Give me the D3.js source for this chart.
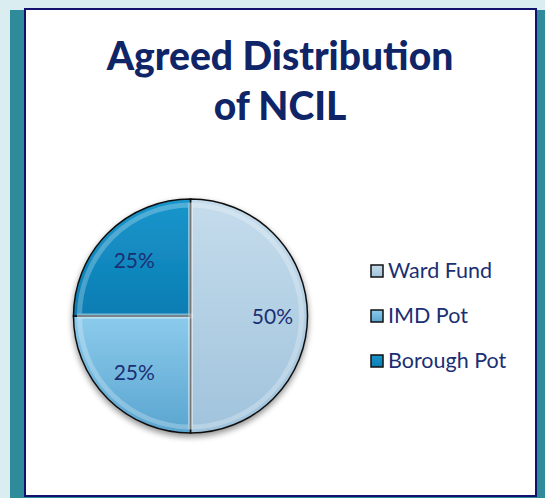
<!DOCTYPE html>
<html lang="en">
<head>
    <meta charset="UTF-8">
    <title>Agreed Distribution of NCIL</title>
    <script src="https://cdn.jsdelivr.net/npm/d3@7/dist/d3.min.js"></script>
    <style>
        body { margin: 0; background: #daeef2; }
        svg text { font-family: Lato, "Open Sans", sans-serif; }
    </style>
</head>
<body>
    <script>
        //chart data
        var categories = ['Ward Fund', 'IMD Pot', 'Borough Pot'];
        var shares = [50, 25, 25];
        var titleLines = ['Agreed Distribution', 'of NCIL'];

        //slice colours: [top, bottom] of each gradient
        var colours = [['#c5dcec', '#a0c3dc'], ['#8ccbec', '#5aa5d0'], ['#1a96cc', '#0a7db3']];

        var w = 545;
        var h = 498;

        var svg = d3.select('body')
                    .append('svg')
                    .attr('width', w)
                    .attr('height', h);

        var defs = svg.append('defs');

        //gradient per slice
        colours.forEach(function(c, i) {
            var g = defs.append('linearGradient')
                .attr('id', 'grad' + i)
                .attr('x1', 0).attr('y1', 0)
                .attr('x2', 0).attr('y2', 1);
            g.append('stop').attr('offset', '0%').attr('stop-color', c[0]);
            g.append('stop').attr('offset', '100%').attr('stop-color', c[1]);
        });

        //soft shadow under the pie
        var shadow = defs.append('filter')
            .attr('id', 'shadow')
            .attr('x', '-20%').attr('y', '-20%')
            .attr('width', '140%').attr('height', '140%');
        shadow.append('feGaussianBlur').attr('in', 'SourceAlpha').attr('stdDeviation', 3);
        shadow.append('feOffset').attr('dx', 0).attr('dy', 3).attr('result', 'blur');
        shadow.append('feComponentTransfer')
            .append('feFuncA').attr('type', 'linear').attr('slope', 0.45);
        var merge = shadow.append('feMerge');
        merge.append('feMergeNode');
        merge.append('feMergeNode').attr('in', 'SourceGraphic');

        //teal strip behind the panel
        svg.append('rect')
            .attr('x', 10).attr('y', 10)
            .attr('width', 535).attr('height', 488)
            .attr('fill', '#2f8a9a');

        //white panel
        svg.append('rect')
            .attr('x', 25).attr('y', 9)
            .attr('width', 511).attr('height', 487)
            .attr('fill', '#ffffff')
            .attr('stroke', '#12126e')
            .attr('stroke-width', 2);

        //title
        svg.append('g')
            .selectAll('text')
            .data(titleLines)
            .enter()
            .append('text')
            .attr('x', 280)
            .attr('y', function(d, i) { return 70 + i * 50; })
            .attr('text-anchor', 'middle')
            .attr('font-size', '39px')
            .attr('font-weight', 900)
            .attr('fill', '#0f2567')
            .text(function(d) { return d; });

        //pie
        var cx = 190.5, cy = 316, r = 117;

        var pie = d3.pie().sort(null).value(function(d) { return d; });
        var arc = d3.arc().innerRadius(0).outerRadius(r);
        var labelArc = d3.arc().innerRadius(r * 0.68).outerRadius(r * 0.68);
        var arcs = pie(shares);

        var pieG = svg.append('g')
            .attr('transform', 'translate(' + cx + ',' + cy + ')');

        pieG.append('g')
            .attr('filter', 'url(#shadow)')
            .selectAll('path')
            .data(arcs)
            .enter()
            .append('path')
            .attr('d', arc)
            .attr('fill', function(d, i) { return 'url(#grad' + i + ')'; })
            .attr('stroke', '#111')
            .attr('stroke-width', 1.5);

        //bevel highlight on each slice
        var innerArc = d3.arc().innerRadius(0).outerRadius(r - 6);
        pieG.append('g')
            .selectAll('path')
            .data(arcs)
            .enter()
            .append('path')
            .attr('d', innerArc)
            .attr('fill', 'none')
            .attr('stroke', '#ffffff')
            .attr('stroke-opacity', 0.25)
            .attr('stroke-width', 5);

        pieG.append('g')
            .selectAll('text')
            .data(arcs)
            .enter()
            .append('text')
            .attr('transform', function(d, i) {
                var c = labelArc.centroid(d);
                //the big slice label sits a bit further out
                var k = i === 0 ? 0.7 / 0.68 : 1;
                return 'translate(' + (c[0] * k) + ',' + (c[1] + 8) + ')';
            })
            .attr('text-anchor', 'middle')
            .attr('font-size', '21px')
            .attr('fill', '#1b2f73')
            .text(function(d) { return d.data + '%'; });

        //legend
        var legend = svg.append('g')
            .attr('transform', 'translate(371,265)');

        var row = legend.selectAll('g')
            .data(categories)
            .enter()
            .append('g')
            .attr('transform', function(d, i) { return 'translate(0,' + i * 45 + ')'; });

        row.append('rect')
            .attr('width', 12).attr('height', 12)
            .attr('fill', function(d, i) { return 'url(#grad' + i + ')'; })
            .attr('stroke', '#111')
            .attr('stroke-width', 1.5);

        row.append('text')
            .attr('x', 17)
            .attr('y', 13)
            .attr('font-size', '21.5px')
            .attr('fill', '#1b2f73')
            .text(function(d) { return d; });
    </script>
</body>
</html>
